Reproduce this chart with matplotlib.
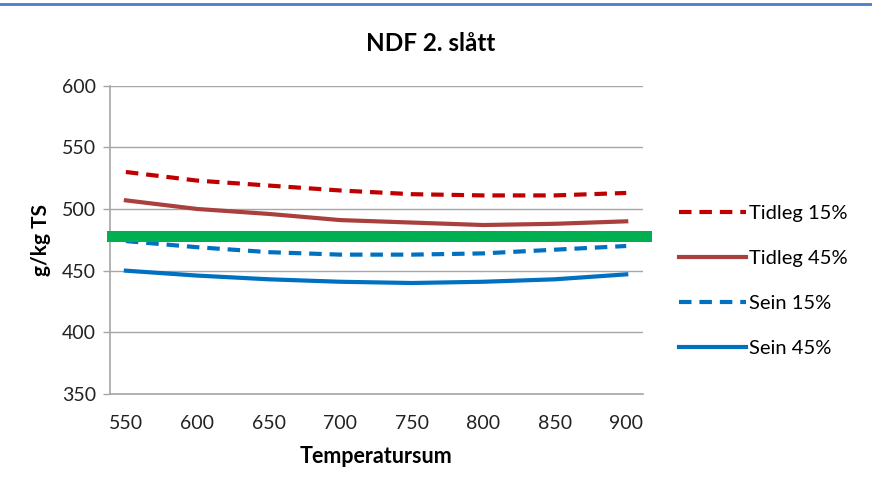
import matplotlib.pyplot as plt
from matplotlib.lines import Line2D

# Data
temp = [550, 600, 650, 700, 750, 800, 850, 900]
tidleg_15 = [530, 523, 519, 515, 512, 511, 511, 513]
tidleg_45 = [507, 500, 496, 491, 489, 487, 488, 490]
sein_15 = [474, 469, 465, 463, 463, 464, 467, 470]
sein_45 = [450, 446, 443, 441, 440, 441, 443, 447]
green_mark = 478
y_ticks = [350, 400, 450, 500, 550, 600]

plt.rcParams['font.family'] = ['Lato', 'DejaVu Sans']

fig = plt.figure(figsize=(8.72, 4.95), dpi=100)
ax = fig.add_axes([0.126, 0.204, 0.611, 0.623])

lw = 3.0
dash = (3.0, 1.9)
ax.plot(temp, tidleg_15, color='#C00000', lw=lw, dashes=dash, label='Tidleg 15%')
ax.plot(temp, tidleg_45, color='#A9403D', lw=lw, label='Tidleg 45%')
ax.plot(temp, sein_15, color='#0070C0', lw=lw, dashes=dash, label='Sein 15%')
ax.plot(temp, sein_45, color='#0070C0', lw=lw, label='Sein 45%')

# green marker band across the plot
ax.axhspan(green_mark - 4.5, green_mark + 4.5, xmin=-0.006, xmax=1.017,
           color='#00B050', lw=0, clip_on=False, zorder=5)

ax.set_xlim(538.8, 911.5)
ax.set_ylim(350, 600)
ax.set_xticks(temp)
ax.set_yticks(y_ticks)
ax.tick_params(axis='x', length=0, pad=15, labelsize=14, colors='#222222')
ax.tick_params(axis='y', length=5, width=1, color='#A6A6A6', pad=5,
               labelsize=14, colors='#222222')
ax.grid(axis='y', color='#A6A6A6', lw=1)
ax.set_axisbelow(True)
for s in ['top', 'right']:
    ax.spines[s].set_visible(False)
for s in ['left', 'bottom']:
    ax.spines[s].set_color('#A6A6A6')
    ax.spines[s].set_linewidth(1.2)

ax.set_xlabel('Temperatursum', fontsize=15.5, fontweight='bold', labelpad=10)
ax.set_ylabel('g/kg TS', fontsize=15, fontweight='bold', labelpad=8)
fig.text(0.494, 0.912, 'NDF 2. slått', fontsize=17.5, fontweight='bold',
         ha='center', va='center')

fig.legend(loc='center left', bbox_to_anchor=(0.779, 0.432), frameon=False,
           fontsize=14.5, handlelength=3.3, handletextpad=0.15,
           labelspacing=1.38, borderpad=0, borderaxespad=0)

# top blue border line
fig.add_artist(Line2D([0, 1], [0.992, 0.992], color='#4A7EC7', lw=2,
                      transform=fig.transFigure))

fig.savefig('out.png', dpi=100)
